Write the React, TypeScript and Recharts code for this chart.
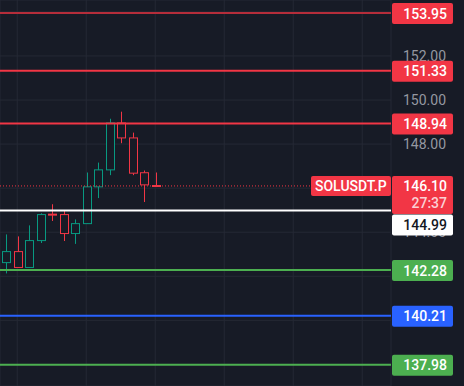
import { ComposedChart, Bar, XAxis, YAxis, CartesianGrid, ReferenceLine } from "recharts";

// hourly candles, the last 20 slots are still empty (future)
const times = [
  "06-11 05:00", "06-11 06:00", "06-11 07:00", "06-11 08:00", "06-11 09:00", "06-11 10:00",
  "06-11 11:00", "06-11 12:00", "06-11 13:00", "06-11 14:00", "06-11 15:00", "06-11 16:00",
  "06-11 17:00", "06-11 18:00", "06-11 19:00", "06-11 20:00", "06-11 21:00", "06-11 22:00",
  "06-11 23:00", "06-12 00:00", "06-12 01:00", "06-12 02:00", "06-12 03:00", "06-12 04:00",
  "06-12 05:00", "06-12 06:00", "06-12 07:00", "06-12 08:00", "06-12 09:00", "06-12 10:00",
  "06-12 11:00", "06-12 12:00", "06-12 13:00", "06-12 14:00",
];
const opens = [142.62, 143.12, 142.4, 143.62, 144.82, 144.8, 143.94, 144.39, 146.06, 146.83, 148.96, 148.28, 146.7, 146.12];
const highs = [143.9, 143.81, 144.31, 144.86, 145.27, 144.99, 144.58, 146.71, 147.16, 149.15, 149.47, 148.52, 146.8, 146.71];
const lows = [142.13, 142.4, 142.4, 143.51, 144.51, 143.6, 143.47, 144.39, 145.55, 146.59, 148.04, 146.59, 145.37, 146.05];
const closes = [143.12, 142.4, 143.62, 144.8, 144.8, 143.94, 144.39, 146.06, 146.83, 148.96, 148.28, 146.68, 146.15, 146.1];

const priceTicks = [138, 140, 142, 144, 146, 148, 150, 152, 154];
const gridTimes = [times[1], times[7], times[13], times[19], times[25], times[31]];

const levelPrices = [153.95, 151.33, 148.94, 144.99, 142.28, 140.21, 137.98];
const levelLines = ["#b52d3a", "#f23645", "#f23645", "#ffffff", "#4caf50", "#2962ff", "#4caf50"];
const levelBoxes = ["#f23645", "#f23645", "#f23645", "#ffffff", "#4caf50", "#2962ff", "#4caf50"];
const levelText = ["#ffffff", "#ffffff", "#ffffff", "#131722", "#ffffff", "#ffffff", "#ffffff"];
const levelShift = [0, 0, 0, 14, 0, 0, 0];

const symbol = "SOLUSDT.P";
const lastPrice = 146.1;
const countdown = "27:37";

const UP = "#089981";
const DOWN = "#f23645";
const BG = "#171b26";

const data = times.map((t, i) => ({
  time: t,
  open: opens[i],
  high: highs[i],
  low: lows[i],
  close: closes[i],
}));

function Candle(props: any) {
  const { x, y, width, height, payload } = props;
  if (!payload || payload.open == null) return null;
  const { open, high, low, close } = payload;
  const top = Math.min(y, y + height);
  const h = Math.abs(height);
  const ppu = h / (high - low);
  const cx = Math.round(x + width / 2) + 0.5;
  const color = close > open ? UP : DOWN;
  const bodyTop = top + (high - Math.max(open, close)) * ppu;
  const bodyBot = top + (high - Math.min(open, close)) * ppu;
  return (
    <g>
      <line x1={cx} x2={cx} y1={top} y2={top + h} stroke={color} strokeWidth={1} />
      <rect
        x={cx - 4}
        y={bodyTop}
        width={8}
        height={Math.max(bodyBot - bodyTop, 1)}
        fill={BG}
        stroke={color}
        strokeWidth={1}
      />
    </g>
  );
}

function PriceTag(props: any) {
  const { viewBox, text, box, color, shift = 0 } = props;
  const left = viewBox.x + viewBox.width + 1;
  const cy = viewBox.y + shift;
  return (
    <g>
      <rect x={left} y={cy - 10} width={61} height={21} rx={2} fill={box} />
      <text x={left + 55} y={cy} dy="0.4em" textAnchor="end" fill={color} fontSize={14} fontWeight={500}>
        {text}
      </text>
    </g>
  );
}

function LastPriceTag(props: any) {
  const { viewBox } = props;
  const right = viewBox.x + viewBox.width;
  const cy = viewBox.y;
  return (
    <g>
      <rect x={right - 80} y={cy - 10} width={80} height={20} rx={2} fill={DOWN} />
      <text x={right - 76} y={cy} dy="0.36em" fill="#ffffff" fontSize={14} fontWeight={500}>
        {symbol}
      </text>
      <rect x={right + 1} y={cy - 10} width={61} height={38} rx={2} fill={DOWN} />
      <text x={right + 56} y={cy} dy="0.36em" textAnchor="end" fill="#ffffff" fontSize={14} fontWeight={500}>
        {lastPrice.toFixed(2)}
      </text>
      <text x={right + 56} y={cy + 17} dy="0.36em" textAnchor="end" fill="#fbd0d4" fontSize={14} fontWeight={500}>
        {countdown}
      </text>
    </g>
  );
}

export default function App() {
  return (
    <div style={{ position: "absolute", left: 0, top: 0, width: 464, height: 386, background: BG, fontFamily: "Roboto, sans-serif" }}>
      <ComposedChart width={464} height={386} data={data} margin={{ top: 0, right: 0, bottom: 0, left: 0 }}>
        <CartesianGrid stroke="#252935" strokeWidth={1} />
        <XAxis dataKey="time" hide ticks={gridTimes} interval={0} />
        <YAxis
          orientation="right"
          width={73}
          domain={[137.02, 154.54]}
          allowDataOverflow
          ticks={priceTicks}
          tickFormatter={(v) => v.toFixed(2)}
          axisLine={false}
          tickLine={false}
          tickMargin={6}
          tick={{ fill: "#9598a1", fontSize: 14 }}
          zIndex={100}
        />
        <Bar
          dataKey={(d: any) => (d.open == null ? null : [d.low, d.high])}
          barSize={8}
          shape={<Candle />}
          isAnimationActive={false}
        />
        <ReferenceLine
          y={lastPrice}
          stroke={DOWN}
          strokeWidth={1}
          strokeDasharray="1 2"
          zIndex={2500}
          label={<LastPriceTag />}
        />
        {levelPrices.map((p, i) => (
          <ReferenceLine
            key={p}
            y={p}
            stroke={levelLines[i]}
            strokeWidth={2}
            zIndex={2500}
            label={<PriceTag text={p.toFixed(2)} box={levelBoxes[i]} color={levelText[i]} shift={levelShift[i]} />}
          />
        ))}
      </ComposedChart>
    </div>
  );
}
